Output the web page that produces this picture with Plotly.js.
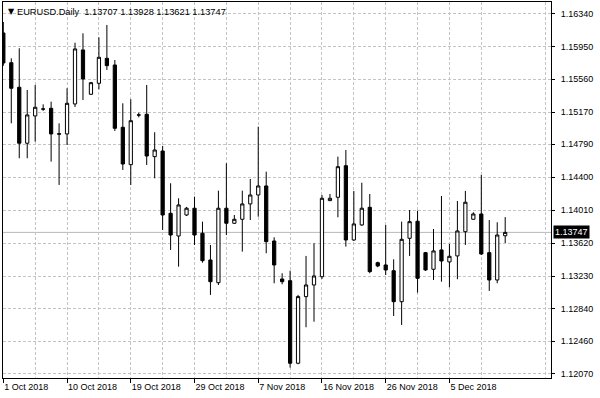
<!DOCTYPE html>
<html><head><meta charset="utf-8">
<script src="https://cdn.plot.ly/plotly-3.0.1.min.js"></script>
<style>html,body{margin:0;padding:0;background:#fff;}#chart{width:600px;height:398px;}</style>
</head><body><div id="chart"></div>
<script>
const symbolLabel = 'EURUSD.Daily';
const dates = [
'2018-10-01','2018-10-02','2018-10-03','2018-10-04','2018-10-05',
'2018-10-07','2018-10-08','2018-10-09','2018-10-10','2018-10-11','2018-10-12',
'2018-10-14','2018-10-15','2018-10-16','2018-10-17','2018-10-18','2018-10-19',
'2018-10-21','2018-10-22','2018-10-23','2018-10-24','2018-10-25','2018-10-26',
'2018-10-28','2018-10-29','2018-10-30','2018-10-31','2018-11-01','2018-11-02',
'2018-11-04','2018-11-05','2018-11-06','2018-11-07','2018-11-08','2018-11-09',
'2018-11-11','2018-11-12','2018-11-13','2018-11-14','2018-11-15','2018-11-16',
'2018-11-18','2018-11-19','2018-11-20','2018-11-21','2018-11-22','2018-11-23',
'2018-11-25','2018-11-26','2018-11-27','2018-11-28','2018-11-29','2018-11-30',
'2018-12-02','2018-12-03','2018-12-04','2018-12-05','2018-12-06','2018-12-07',
'2018-12-09','2018-12-10','2018-12-11','2018-12-12','2018-12-13'];

const open = [
1.16109,1.15757,1.15466,1.14803,1.15126,
1.15207,1.15217,1.14915,1.14913,1.15268,1.15908,
1.15383,1.15513,1.15809,1.15730,1.14992,1.14549,
1.15136,1.15146,1.14644,1.14711,1.13973,1.13704,
1.13953,1.14033,1.13737,1.13420,1.13151,1.14033,
1.13855,1.13902,1.14084,1.14190,1.14297,1.13645,
1.13195,1.13175,1.12197,1.12986,1.13124,1.13222,
1.14123,1.14163,1.14537,1.13657,1.13835,1.14044,
1.13388,1.13361,1.13293,1.12926,1.13677,1.13879,
1.13507,1.13310,1.13539,1.13397,1.13468,1.13755,
1.13902,1.13965,1.13507,1.13183,1.13707];
const high = [
1.16239,1.15809,1.15928,1.15434,1.15493,
1.15264,1.15295,1.15039,1.15454,1.15994,1.16105,
1.15529,1.16058,1.16204,1.15789,1.15276,1.15324,
1.15165,1.15493,1.14933,1.14771,1.14329,1.14151,
1.14048,1.14170,1.13874,1.13598,1.14241,1.14566,
1.13953,1.14241,1.14380,1.14999,1.14466,1.13689,
1.13263,1.13293,1.13006,1.13468,1.13618,1.14190,
1.14202,1.14644,1.14723,1.14238,1.14336,1.14202,
1.13400,1.13835,1.13428,1.13874,1.14012,1.14004,
1.13515,1.13787,1.14178,1.13610,1.14119,1.14238,
1.13985,1.14427,1.13894,1.13867,1.13928];
const low = [
1.15720,1.15039,1.14625,1.14625,1.14821,
1.15185,1.14585,1.14309,1.14782,1.15232,1.15315,
1.15375,1.15442,1.15671,1.14948,1.14486,1.14309,
1.15110,1.14545,1.14388,1.13776,1.13539,1.13341,
1.13941,1.13598,1.13388,1.13006,1.13124,1.13716,
1.13847,1.13519,1.13894,1.13933,1.13500,1.13144,
1.13132,1.12145,1.12185,1.12623,1.12689,1.13195,
1.14118,1.13926,1.13578,1.13645,1.13823,1.13263,
1.13334,1.13242,1.12757,1.12650,1.13468,1.13033,
1.13290,1.13183,1.13163,1.13097,1.13192,1.13598,
1.13900,1.13480,1.13053,1.13144,1.13621];
const close = [
1.15754,1.15454,1.14803,1.15138,1.15229,
1.15209,1.14913,1.14911,1.15276,1.15920,1.15564,
1.15520,1.15821,1.15722,1.14980,1.14557,1.15070,
1.15138,1.14652,1.14723,1.13953,1.13716,1.14072,
1.14033,1.13716,1.13412,1.13163,1.14033,1.13855,
1.13902,1.14084,1.14190,1.14297,1.13637,1.13361,
1.13163,1.12197,1.12986,1.13124,1.13231,1.14151,
1.14151,1.14525,1.13657,1.13847,1.14033,1.13282,
1.13349,1.13302,1.12926,1.13665,1.13874,1.13203,
1.13302,1.13527,1.13408,1.13464,1.13764,1.14104,
1.13965,1.13491,1.13183,1.13716,1.13747];

const yTickLabels = ['1.16340','1.15950','1.15560','1.15170','1.14790','1.14400',
                     '1.14010','1.13620','1.13230','1.12840','1.12460','1.12070'];
const xTickDates = ['2018-10-01','2018-10-10','2018-10-19','2018-10-29',
                    '2018-11-07','2018-11-16','2018-11-26','2018-12-05'];
const xTickLabels = ['1 Oct 2018','10 Oct 2018','19 Oct 2018','29 Oct 2018',
                     '7 Nov 2018','16 Nov 2018','26 Nov 2018','5 Dec 2018'];

const xIdx = dates.map((d, i) => i);
const xTickIdx = xTickDates.map(d => dates.indexOf(d));
const minorIdx = [];
for (let i = 4; i <= 72; i += 8) minorIdx.push(i);
const last = close.length - 1;
const header = symbolLabel + '  ' + [open[last], high[last], low[last], close[last]].map(v => v.toFixed(5)).join(' ');

const gridColor = '#c4c4c4';
const gridDash = '3px,2px';
const fontFam = 'Liberation Sans, Arial, sans-serif';

const trace = {
  type: 'candlestick',
  x: xIdx, open: open, high: high, low: low, close: close,
  hovertext: dates,
  increasing: {line: {color: '#000', width: 1}, fillcolor: '#ffffff'},
  decreasing: {line: {color: '#000', width: 1}, fillcolor: '#000000'},
  whiskerwidth: 0
};

const layout = {
  width: 600, height: 398,
  margin: {l: 3, r: 49, t: 2, b: 20, pad: 0},
  paper_bgcolor: '#fff', plot_bgcolor: '#fff',
  showlegend: false,
  boxgap: 0.42,
  font: {family: fontFam, size: 9, color: '#000'},
  xaxis: {
    type: 'linear',
    range: [-0.04, 68.75],
    tickmode: 'array', tickvals: xTickIdx, ticktext: xTickLabels,
    ticks: 'outside', ticklen: 4, tickwidth: 1, tickcolor: '#000',
    ticklabelposition: 'outside right',
    tickfont: {family: fontFam, size: 9, color: '#000'},
    showgrid: true, gridcolor: gridColor, griddash: gridDash, gridwidth: 1,
    minor: {tickmode: 'array', tickvals: minorIdx, showgrid: true, gridcolor: gridColor, griddash: gridDash, gridwidth: 1, ticks: ''},
    showline: true, mirror: true, linecolor: '#000', linewidth: 1,
    zeroline: false,
    rangeslider: {visible: false},
    fixedrange: true
  },
  yaxis: {
    side: 'right',
    range: [1.12022, 1.16476],
    tickmode: 'array', tickvals: yTickLabels.map(Number), ticktext: yTickLabels,
    ticks: 'outside', ticklen: 3, tickwidth: 1, tickcolor: '#000',
    ticklabelstandoff: 4,
    tickfont: {family: fontFam, size: 9, color: '#000'},
    showgrid: true, gridcolor: gridColor, griddash: gridDash, gridwidth: 1,
    showline: true, mirror: true, linecolor: '#000', linewidth: 1,
    zeroline: false,
    fixedrange: true
  },
  shapes: [{
    type: 'line', xref: 'paper', x0: 0, x1: 1, yref: 'y', y0: close[last], y1: close[last],
    line: {color: '#b8b8b8', width: 1}, layer: 'below'
  }],
  annotations: [
    {xref: 'paper', yref: 'paper', x: 0, y: 1, xanchor: 'left', yanchor: 'middle',
     xshift: 3, yshift: -9.5, showarrow: false, text: '▼',
     font: {family: 'DejaVu Sans, sans-serif', size: 8, color: '#000'}},
    {xref: 'paper', yref: 'paper', x: 0, y: 1, xanchor: 'left', yanchor: 'middle',
     xshift: 12, yshift: -9.5, showarrow: false, text: header,
     font: {family: fontFam, size: 9.25, color: '#000'}},
    {xref: 'paper', yref: 'y', x: 1, y: close[last], xanchor: 'left', yanchor: 'middle',
     xshift: 2, showarrow: false, text: close[last].toFixed(5),
     bgcolor: '#000', borderpad: 1,
     font: {family: fontFam, size: 9, color: '#fff'}}
  ]
};

Plotly.newPlot('chart', [trace], layout, {displayModeBar: false, staticPlot: true});
</script>
</body></html>
